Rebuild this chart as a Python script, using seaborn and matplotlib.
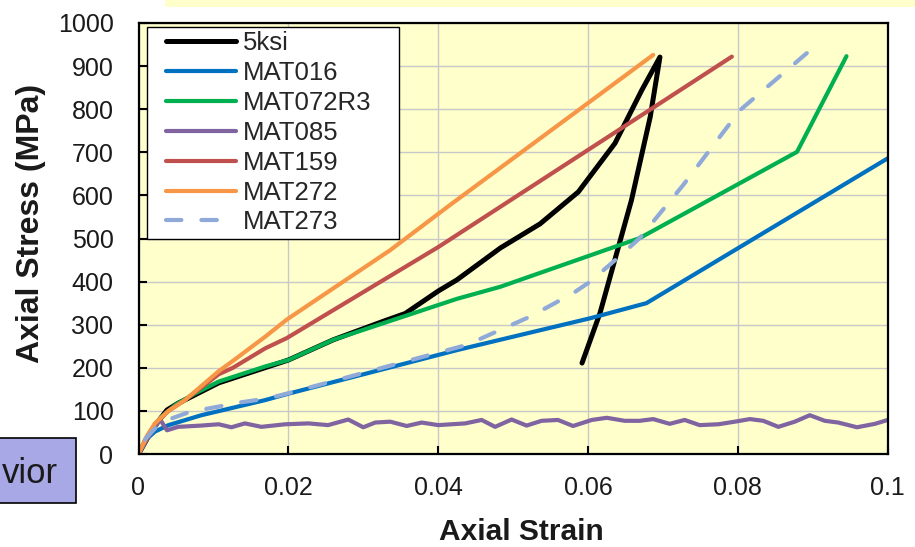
import matplotlib
matplotlib.use("Agg")
import matplotlib.pyplot as plt
import seaborn as sns
import pandas as pd
from matplotlib.patches import Rectangle
from matplotlib.lines import Line2D
from matplotlib.legend_handler import HandlerLine2D

# ---- stress-strain curves (strain [-], stress [MPa]) ----
strain_5ksi = [0, 0.0013, 0.0026, 0.0038, 0.0053, 0.0066, 0.0107, 0.020, 0.026, 0.033,
               0.0356, 0.040, 0.0425, 0.0483, 0.0536, 0.0587, 0.0636, 0.0672, 0.0696,
               0.0683, 0.0658, 0.0616, 0.0592]
stress_5ksi = [0, 40, 75, 102, 118, 129, 165, 218, 265, 310,
               326, 378, 404, 478, 534, 608, 721, 845, 921,
               782, 589, 327, 211]

strain_mat016 = [0, 0.0009, 0.0022, 0.004, 0.0084, 0.0169, 0.0198, 0.0425, 0.0603, 0.0678, 0.1]
stress_mat016 = [0, 32, 52, 67, 90, 125, 139, 241, 315, 350, 686]

strain_mat072 = [0, 0.0012, 0.003, 0.005, 0.0075, 0.0107, 0.0169, 0.020, 0.026, 0.0425,
                 0.0483, 0.0669, 0.0879, 0.0945]
stress_mat072 = [0, 40, 85, 115, 140, 168, 203, 218, 265, 360,
                 388, 501, 701, 923]

strain_mat085 = [0, 0.0015, 0.0029, 0.0038, 0.0053, 0.0084, 0.0107, 0.0124, 0.0142, 0.0164,
                 0.0196, 0.0227, 0.0253, 0.028, 0.030, 0.0316, 0.0336, 0.0358, 0.0378,
                 0.040, 0.0436, 0.0458, 0.0476, 0.0498, 0.0518, 0.0538, 0.056, 0.058,
                 0.0605, 0.0625, 0.0649, 0.0669, 0.0687, 0.0709, 0.0729, 0.0749, 0.0774,
                 0.0796, 0.0816, 0.0834, 0.0854, 0.0876, 0.0896, 0.0916, 0.0934, 0.0959,
                 0.0983, 0.1]
stress_mat085 = [0, 45, 80, 55, 63, 66, 69, 62, 71, 63,
                 69, 71, 67, 80, 62, 73, 75, 65, 73,
                 67, 71, 79, 63, 80, 66, 77, 79, 65,
                 79, 84, 77, 77, 81, 70, 79, 67, 69,
                 75, 81, 77, 63, 75, 90, 77, 73, 62,
                 70, 79]

strain_mat159 = [0, 0.0011, 0.0022, 0.004, 0.0062, 0.0107, 0.0126, 0.0169, 0.0198, 0.040, 0.0792]
stress_mat159 = [0, 40, 70, 100, 125, 185, 200, 245, 269, 480, 922]

strain_mat272 = [0, 0.0011, 0.0022, 0.004, 0.0062, 0.0107, 0.0126, 0.0169, 0.0198, 0.0336,
                 0.0416, 0.0687]
stress_mat272 = [0, 40, 71, 100, 125, 192, 216, 272, 312, 473,
                 578, 926]

strain_mat273 = [0, 0.0004, 0.0026, 0.004, 0.0069, 0.0107, 0.0129, 0.0173, 0.020, 0.030,
                 0.0438, 0.0523, 0.058, 0.0603, 0.0647, 0.0669, 0.0727, 0.0803, 0.0892]
stress_mat273 = [0, 25, 67, 80, 98, 110, 118, 129, 141, 188,
                 253, 319, 373, 400, 466, 501, 624, 798, 930]

series_names = ["5ksi", "MAT016", "MAT072R3", "MAT085", "MAT159", "MAT272", "MAT273"]
series_strain = [strain_5ksi, strain_mat016, strain_mat072, strain_mat085,
                 strain_mat159, strain_mat272, strain_mat273]
series_stress = [stress_5ksi, stress_mat016, stress_mat072, stress_mat085,
                 stress_mat159, stress_mat272, stress_mat273]
series_colors = ["#000000", "#0070C0", "#00B050", "#8064A2", "#C0504D", "#F79646", "#8FA9D9"]

x_ticks = [0, 0.02, 0.04, 0.06, 0.08, 0.1]
x_tick_labels = ["0", "0.02", "0.04", "0.06", "0.08", "0.1"]
y_ticks = list(range(0, 1001, 100))

# ---- style ----
sns.set_style("ticks")
plt.rcParams["font.family"] = ["Liberation Sans", "DejaVu Sans"]

W, H = 915, 547
fig = plt.figure(figsize=(W / 100, H / 100), dpi=100)
fig.patch.set_facecolor("white")
ax = fig.add_axes([138.5 / W, (H - 454) / H, 749.2 / W, 431 / H])
ax.set_facecolor("#FFFFCC")

for name, xs, ys, col in zip(series_names, series_strain, series_stress, series_colors):
    df = pd.DataFrame({"strain": xs, "stress": ys})
    kw = dict(lw=3.6 if name == "5ksi" else 3.0, solid_capstyle="round",
              solid_joinstyle="round")
    if name == "MAT273":
        # dash pattern starts at the peak so the curve ends on a dash
        df = df.iloc[::-1]
        kw.update(linestyle=(0, (3.7, 4.8)), dash_capstyle="round")
    sns.lineplot(data=df, x="strain", y="stress", sort=False, estimator=None,
                 color=col, label=name, ax=ax, **kw)

ax.set_xlim(0, 0.1)
ax.set_ylim(0, 1000)
ax.set_xticks(x_ticks)
ax.set_xticklabels(x_tick_labels)
ax.set_yticks(y_ticks)
ax.grid(True, color="#C8C8C8", lw=1.0)
ax.set_axisbelow(True)
ax.set_xlabel("")
ax.set_ylabel("")
ax.tick_params(axis="both", direction="in", length=6, width=1.5, colors="black",
               labelsize=18, labelcolor="#1a1a1a")
ax.tick_params(axis="y", pad=18)
ax.tick_params(axis="x", pad=16)
for sp in ax.spines.values():
    sp.set_visible(True)
    sp.set_linewidth(1.6)
    sp.set_color("black")

leg_fs = 18.5
leg = ax.legend(loc="upper left", bbox_to_anchor=(0.011, 0.5005, 0.337, 0.491),
                mode="expand", borderaxespad=0, fontsize=leg_fs, handlelength=3.3,
                handletextpad=0.27, borderpad=0.17, labelspacing=0.23,
                fancybox=False, framealpha=1, facecolor="white", edgecolor="black",
                handler_map={Line2D: HandlerLine2D(xpad=0.58)})
leg.get_frame().set_linewidth(1.0)

fig.text(521.7 / W, 1 - 531.7 / H, "Axial Strain", ha="center", va="center",
         fontsize=21.5, fontweight="bold", color="#1a1a1a")
fig.text(31 / W, 1 - 223 / H, "Axial Stress (MPa)", ha="center", va="center",
         rotation=90, fontsize=23, fontweight="bold", color="#1a1a1a")

# slide decorations around the chart
fig.patches.append(Rectangle((165 / W, 1 - 7 / H), 750 / W, 7 / H,
                             transform=fig.transFigure, facecolor="#FFFFCC",
                             edgecolor="none", zorder=0))
fig.patches.append(Rectangle((-0.01, (H - 503) / H), 76 / W + 0.01, 65 / H,
                             transform=fig.transFigure, facecolor="#A8A8E6",
                             edgecolor="black", lw=1.2, zorder=3))
fig.text(2 / W, 1 - 483 / H, "vior", ha="left", va="baseline", fontsize=25,
         color="#1a1a1a", zorder=4)

fig.savefig("out.png", dpi=100)
